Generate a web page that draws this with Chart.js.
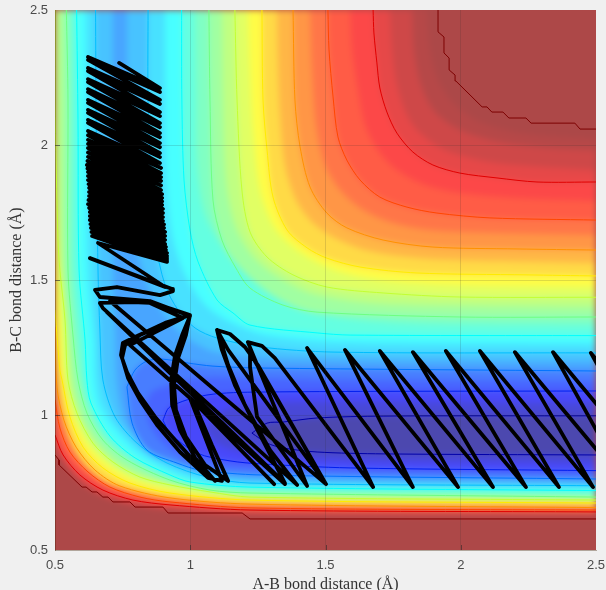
<!DOCTYPE html>
<html><head><meta charset="utf-8">
<style>html,body{margin:0;padding:0;background:#f0f0f0;overflow:hidden}canvas{display:block}</style>
<script src="https://cdn.jsdelivr.net/npm/chart.js@4"></script>
</head><body><canvas id="c" width="606" height="590"></canvas>
<script>
const xTickValues=[0.5,1,1.5,2,2.5];
const yTickValues=[0.5,1,1.5,2,2.5];
const xTitle='A-B bond distance (Å)';
const yTitle='B-C bond distance (Å)';

/* contour lines: [A-B, B-C] in Å; lower branch runs to the right edge, upper branch runs back */
const L_lower=[[.5,.852],[.515,.833],[.515,.815],[.6,.733],[.615,.733],[.637,.715],[.655,.715],[.677,.696],[.696,.696],[.714,.678],[.777,.678],[.796,.659],[.899,.659],[.918,.637],[1.192,.637],[1.221,.615],[2.5,.615]];
const L_upper=[[2.5,2.059],[2.441,2.059],[2.422,2.081],[2.26,2.081],[2.241,2.1],[2.178,2.1],[2.156,2.122],[2.115,2.122],[2.097,2.141],[2.079,2.141],[1.982,2.237],[1.979,2.259],[1.957,2.278],[1.957,2.322],[1.938,2.341],[1.938,2.4],[1.916,2.419],[1.916,2.5]];
const M0_lower=[[.5,.87],[.592,.744],[.788,.663],[1.221,.626],[2.5,.622]];
const M0_upper=[[2.5,2.019],[2.219,2.044],[2.071,2.085],[1.979,2.148],[1.916,2.241],[1.886,2.352],[1.875,2.5]];
const M1_lower=[[.5,.889],[.526,.833],[.592,.756],[.677,.7],[.788,.67],[.925,.652],[1.221,.633],[2.5,.63]];
const M1_upper=[[2.5,1.981],[2.33,1.989],[2.145,2.011],[1.997,2.056],[1.905,2.122],[1.853,2.222],[1.827,2.352],[1.82,2.5]];
const M2_lower=[[.5,.907],[.53,.841],[.592,.767],[.677,.707],[.788,.678],[.925,.659],[1.221,.641],[2.5,.635]];
const M2_upper=[[2.5,1.907],[2.293,1.919],[2.108,1.937],[1.942,1.981],[1.849,2.044],[1.801,2.111],[1.764,2.222],[1.746,2.352],[1.738,2.5]];
const K_lower=[[.5,.926],[.53,.852],[.592,.778],[.677,.722],[.788,.685],[.925,.667],[1.221,.648],[2.5,.641]];
const K_upper=[[2.5,1.863],[2.282,1.863],[2.134,1.878],[1.997,1.896],[1.897,1.926],[1.823,1.974],[1.764,2.044],[1.727,2.122],[1.701,2.211],[1.69,2.304],[1.679,2.415],[1.676,2.5]];
const KJ_lower=[[.5,.959],[.526,.881],[.574,.815],[.648,.756],[.74,.715],[.851,.685],[.999,.67],[1.221,.652],[2.5,.644]];
const KJ_upper=[[2.5,1.793],[2.201,1.804],[1.997,1.822],[1.868,1.852],[1.764,1.907],[1.694,1.981],[1.646,2.074],[1.62,2.204],[1.598,2.352],[1.591,2.5]];
const J_lower=[[.5,1.056],[.518,.952],[.555,.863],[.622,.789],[.703,.733],[.814,.696],[.925,.678],[1.221,.656],[2.5,.648]];
const J_upper=[[2.5,1.722],[2.108,1.73],[1.912,1.748],[1.801,1.77],[1.701,1.807],[1.628,1.87],[1.579,1.944],[1.546,2.03],[1.528,2.178],[1.513,2.352],[1.509,2.5]];
const JI_lower=[[.5,1.185],[.518,1.037],[.544,.926],[.6,.826],[.685,.759],[.777,.719],[.925,.685],[1.221,.663],[2.5,.652]];
const JI_upper=[[2.5,1.667],[2.145,1.674],[1.886,1.685],[1.738,1.715],[1.628,1.767],[1.554,1.833],[1.498,1.926],[1.465,2.074],[1.45,2.278],[1.443,2.5]];
const I_lower=[[.5,1.326],[.507,1.104],[.533,.981],[.578,.881],[.648,.796],[.74,.737],[.925,.693],[1.221,.67],[2.5,.657]];
const I_upper=[[2.5,1.611],[2.208,1.615],[1.897,1.622],[1.713,1.648],[1.579,1.693],[1.505,1.748],[1.443,1.844],[1.406,1.993],[1.387,2.167],[1.38,2.5]];
const IH_lower=[[.5,1.359],[.511,1.13],[.53,1.0],[.567,.881],[.629,.796],[.711,.741],[.888,.7],[1.221,.678],[2.5,.667]];
const IH_upper=[[2.5,1.563],[2.145,1.57],[1.849,1.581],[1.664,1.607],[1.535,1.656],[1.45,1.715],[1.391,1.796],[1.35,1.926],[1.332,2.111],[1.324,2.315],[1.321,2.5]];
const H_lower=[[.5,1.389],[.518,1.167],[.526,1.13],[.555,.993],[.604,.881],[.677,.804],[.777,.748],[.925,.711],[1.221,.685],[2.5,.674]];
const H_upper=[[2.5,1.515],[2.245,1.519],[1.838,1.526],[1.628,1.548],[1.505,1.581],[1.432,1.619],[1.358,1.685],[1.306,1.807],[1.284,1.981],[1.269,2.167],[1.265,2.5]];
const HG_lower=[[.5,1.87],[.518,1.426],[.537,1.13],[.567,1.0],[.622,.889],[.696,.815],[.796,.759],[.925,.726],[1.221,.693],[2.5,.68]];
const HG_upper=[[2.5,1.474],[1.997,1.481],[1.701,1.5],[1.535,1.537],[1.406,1.604],[1.313,1.693],[1.258,1.833],[1.232,2.056],[1.221,2.278],[1.213,2.5]];
const G_lower=[[.5,2.5],[.5,2.167],[.511,1.648],[.518,1.537],[.537,1.352],[.548,1.13],[.581,1.007],[.64,.896],[.714,.826],[.814,.77],[.925,.741],[1.073,.715],[1.221,.696],[2.5,.685]];
const G_upper=[[2.5,1.436],[1.997,1.437],[1.713,1.452],[1.505,1.474],[1.38,1.519],[1.284,1.585],[1.221,1.678],[1.191,1.833],[1.173,2.167],[1.165,2.5]];
const GF_lower=[[.518,2.5],[.522,2.167],[.526,1.648],[.533,1.463],[.552,1.241],[.567,1.093],[.6,.981],[.659,.889],[.74,.811],[.851,.767],[.925,.748],[1.073,.719],[1.221,.704],[2.5,.69]];
const GF_upper=[[2.5,1.4],[1.997,1.404],[1.664,1.415],[1.443,1.452],[1.313,1.519],[1.228,1.593],[1.165,1.704],[1.132,1.87],[1.121,2.167],[1.117,2.5]];
const F_lower=[[.542,2.5],[.548,2.167],[.548,1.537],[.567,1.289],[.585,1.13],[.618,1.007],[.677,.907],[.766,.833],[.925,.759],[1.073,.722],[1.221,.711],[2.5,.696]];
const F_upper=[[2.5,1.363],[1.997,1.363],[1.469,1.381],[1.343,1.407],[1.221,1.47],[1.169,1.544],[1.117,1.648],[1.084,1.796],[1.073,2.167],[1.069,2.5]];
const FE_lower=[[.559,2.5],[.563,2.167],[.567,1.537],[.589,1.278],[.607,1.111],[.637,1.011],[.692,.915],[.777,.841],[.925,.767],[1.073,.733],[1.221,.722],[2.5,.707]];
const FE_upper=[[2.5,1.333],[1.775,1.341],[1.48,1.37],[1.332,1.426],[1.221,1.507],[1.128,1.611],[1.055,1.741],[1.025,1.926],[1.021,2.204],[1.018,2.5]];
const E_lower=[[.58,2.5],[.585,2.093],[.589,1.537],[.611,1.278],[.618,1.13],[.633,1.044],[.703,.922],[.796,.841],[.925,.778],[.999,.752],[1.221,.733],[2.5,.72]];
const E_upper=[[2.5,1.294],[1.591,1.296],[1.469,1.304],[1.221,1.333],[1.158,1.378],[1.099,1.426],[1.029,1.567],[.999,1.685],[.977,1.87],[.969,2.167],[.968,2.5]];
const ED_lower=[[.615,2.5],[.618,1.981],[.622,1.537],[.644,1.278],[.648,1.13],[.666,1.037],[.722,.952],[.807,.863],[.925,.796],[1.036,.759],[1.221,.741],[2.5,.73]];
const ED_upper=[[2.5,1.263],[1.554,1.27],[1.276,1.296],[1.147,1.344],[1.055,1.407],[.981,1.519],[.933,1.667],[.91,1.907],[.907,2.204],[.907,2.5]];
const D_lower=[[.65,2.5],[.652,2.093],[.659,1.537],[.666,1.315],[.677,1.13],[.722,.993],[.803,.896],[.914,.822],[1.062,.77],[1.221,.748],[2.5,.738]];
const D_upper=[[2.5,1.23],[1.528,1.233],[1.258,1.252],[1.099,1.285],[1.018,1.322],[.955,1.389],[.907,1.481],[.87,1.648],[.855,1.87],[.844,2.167],[.844,2.5]];
const DC_lower=[[.714,2.5],[.714,2.093],[.714,1.537],[.722,1.315],[.729,1.111],[.759,.981],[.825,.9],[.925,.833],[1.055,.789],[1.221,.767],[2.5,.752]];
const DC_upper=[[2.5,1.196],[1.554,1.204],[1.276,1.211],[1.091,1.233],[.999,1.278],[.925,1.344],[.851,1.463],[.796,1.648],[.77,1.981],[.766,2.5]];
const C_lower=[[.766,1.104],[.785,.97],[.84,.87],[.951,.822],[1.036,.796],[1.258,.778],[2.5,.763]];
const C_upper=[[2.5,1.163],[1.258,1.174],[1.084,1.181],[.988,1.193],[.896,1.207],[.84,1.2],[.796,1.167],[.766,1.104]];
const CB_lower=[[.833,1.037],[.851,.963],[.907,.889],[.999,.833],[1.147,.804],[2.5,.778]];
const CB_upper=[[2.5,1.126],[1.517,1.13],[1.184,1.137],[1.036,1.137],[.925,1.111],[.858,1.085],[.833,1.037]];
const B_lower=[[.899,.981],[.925,.933],[1.025,.859],[1.147,.83],[1.258,.819],[1.591,.804],[2.5,.794]];
const B_upper=[[2.5,1.089],[1.258,1.085],[1.062,1.074],[.925,1.03],[.899,.981]];
const BA_lower=[[1.055,.944],[1.11,.889],[1.258,.848],[1.591,.83],[2.5,.822]];
const BA_upper=[[2.5,1.044],[1.591,1.048],[1.258,1.044],[1.128,1.019],[1.055,.944]];
const A_lower=[[1.228,.933],[1.284,.896],[1.343,.878],[1.469,.863],[1.713,.856],[2.5,.852]];
const A_upper=[[2.5,.997],[1.713,.996],[1.469,.989],[1.343,.974],[1.284,.97],[1.228,.933]];

/* trajectory: [A-B, B-C] in Å */
const trajectoryArm=[[.737,2.304],[.888,2.211],[.622,2.326],[.888,2.196],[.622,2.315],[.888,2.167],[.622,2.285],[.888,2.152],[.622,2.274],[.888,2.122],[.622,2.244],[.888,2.107],[.622,2.233],[.888,2.081],[.622,2.207],[.888,2.066],[.622,2.196],[.888,2.044],[.622,2.167],[.888,2.029],[.622,2.156],[.888,2.007],[.622,2.13],[.888,1.992],[.622,2.119],[.888,1.97],[.622,2.093],[.888,1.955],[.622,2.082],[.888,1.933],[.622,2.052],[.892,1.915],[.622,2.036],[.892,1.896],[.622,2.019],[.892,1.881],[.622,2.004],[.892,1.867],[.622,1.989],[.892,1.85],[.622,1.972],[.892,1.833],[.622,1.956],[.896,1.818],[.62,1.941],[.896,1.804],[.618,1.926],[.896,1.791],[.62,1.913],[.896,1.778],[.622,1.9],[.899,1.763],[.622,1.885],[.899,1.748],[.622,1.87],[.899,1.733],[.624,1.855],[.899,1.719],[.626,1.841],[.903,1.706],[.626,1.826],[.903,1.693],[.626,1.811],[.907,1.678],[.624,1.796],[.907,1.663],[.622,1.781],[.907,1.648],[.626,1.767],[.907,1.633],[.629,1.752],[.91,1.622],[.629,1.737],[.91,1.611],[.629,1.722],[.914,1.6],[.631,1.707],[.914,1.589],[.633,1.693],[.914,1.581],[.635,1.678],[.914,1.574],[.637,1.663],[.914,1.567],[.659,1.637],[.907,1.474],[.629,1.581],[.933,1.467]];
const trajectoryWall=[[.936,1.459],[.888,1.444],[.729,1.474],[.648,1.463],[.666,1.437],[.851,1.422],[.999,1.367],[.97,1.296],[.944,1.222],[.929,1.13],[.933,1.037],[.962,.944],[1.018,.841],[1.092,.756],[1.018,.826],[.944,.907],[.87,.993],[.807,1.081],[.766,1.159],[.744,1.222],[.751,1.267],[.796,1.289],[.907,1.341],[.999,1.37],[.984,1.296],[.955,1.211],[.94,1.111],[.947,1.019],[.984,.919],[1.055,.815],[1.14,.756],[1.08,.889],[1.025,1.019],[.999,1.063],[1.117,.756],[1.066,.767],[.962,.863],[.877,.963],[.814,1.056],[.77,1.137],[.748,1.211],[.759,1.259],[.814,1.296],[.944,1.352],[.999,1.37],[.851,1.419],[.666,1.415],[.677,1.396],[1.395,.741],[1.295,.87],[1.202,1.037],[1.14,1.185],[1.106,1.296],[1.099,1.315],[1.117,1.241],[1.165,1.111],[1.239,.963],[1.35,.748],[.692,1.381],[1.35,.744],[.999,1.063],[1.31,.744],[.999,1.063],[.777,1.259],[.973,1.359],[.851,1.415],[.703,1.422],[1.502,.744],[1.14,1.241],[1.099,1.315],[1.147,1.3],[1.202,1.252],[1.25,1.185],[1.502,.744],[1.221,1.23],[1.221,1.178],[1.247,.993],[1.432,.737],[1.213,1.27],[1.265,1.256],[1.313,1.211],[1.676,.733]];
const trajectoryChannel=[[1.432,1.248],[1.823,.733],[1.572,1.241],[1.99,.733],[1.701,1.237],[2.119,.733],[1.823,1.233],[2.241,.733],[1.945,1.237],[2.363,.733],[2.071,1.237],[2.489,.733],[2.2,1.233],[2.618,.733],[2.341,1.233],[2.759,.733],[2.481,1.23],[2.884,.733]];

const baseColor='rgb(173,72,72)';
const levels=[
 [L_lower,L_upper,'rgb(172,72,72)','rgb(125,0,0)',0],
 [M0_lower,M0_upper,'rgb(182,72,72)',null,.3],
 [M1_lower,M1_upper,'rgb(206,72,72)',null,.3],
 [M2_lower,M2_upper,'rgb(230,72,72)',null,.3],
 [K_lower,K_upper,'rgb(252,72,72)','rgb(225,0,0)',.3],
 [KJ_lower,KJ_upper,'rgb(255,92,70)',null,.3],
 [J_lower,J_upper,'rgb(255,118,72)','rgb(255,70,0)',.3],
 [JI_lower,JI_upper,'rgb(255,150,70)',null,.3],
 [I_lower,I_upper,'rgb(255,182,70)','rgb(255,145,0)',.3],
 [IH_lower,IH_upper,'rgb(255,218,70)',null,.3],
 [H_lower,H_upper,'rgb(255,252,70)','rgb(255,235,0)',.3],
 [HG_lower,HG_upper,'rgb(225,255,100)',null,.3],
 [G_lower,G_upper,'rgb(192,255,130)','rgb(195,255,50)',.3],
 [GF_lower,GF_upper,'rgb(160,255,162)',null,.3],
 [F_lower,F_upper,'rgb(128,255,195)','rgb(110,255,130)',.3],
 [FE_lower,FE_upper,'rgb(100,255,225)',null,.3],
 [E_lower,E_upper,'rgb(72,255,255)','rgb(0,255,255)',.3],
 [ED_lower,ED_upper,'rgb(72,225,255)',null,.3],
 [D_lower,D_upper,'rgb(72,195,255)','rgb(0,190,255)',.3],
 [DC_lower,DC_upper,'rgb(72,165,255)',null,.3],
 [C_lower,C_upper,'rgb(72,125,255)','rgb(0,115,255)',.3],
 [CB_lower,CB_upper,'rgb(72,100,255)',null,.3],
 [B_lower,B_upper,'rgb(72,72,250)','rgb(0,30,240)',.3],
 [BA_lower,BA_upper,'rgb(72,72,215)',null,.3],
 [A_lower,A_upper,'rgb(76,72,175)','rgb(0,0,170)',.3]
];
const toPts=a=>a.map(p=>({x:p[0],y:p[1]}));
const datasets=[];
levels.forEach((lv,i)=>{
  const ord=2*(levels.length-i)+2;
  const common={showLine:true,pointRadius:0,pointHoverRadius:0,clip:0,tension:lv[4],
    borderColor:lv[3]||'rgba(0,0,0,0)',borderWidth:lv[3]?1:0,borderJoinStyle:'round'};
  datasets.push({...common,data:toPts(lv[0]),order:ord});
  datasets.push({...common,data:toPts(lv[1]),order:ord+1,bandFill:lv[2]});
});
datasets.push({showLine:true,pointRadius:0,pointHoverRadius:0,clip:0,tension:0,order:0,
  data:toPts([...trajectoryArm,...trajectoryWall,...trajectoryChannel]),
  borderColor:'#000',borderWidth:3.8,borderJoinStyle:'round',borderCapStyle:'round'});

function trace(ctx,meta,area,first){
  meta.dataset.updateControlPoints(area,'x');
  meta.data.forEach((p,i)=>{
    if(i===0){ first?ctx.moveTo(p.x,p.y):ctx.lineTo(p.x,p.y); return; }
    const q=meta.data[i-1];
    if(meta.dataset.options.tension>0 && q.cp2x!==undefined) ctx.bezierCurveTo(q.cp2x,q.cp2y,p.cp1x,p.cp1y,p.x,p.y);
    else ctx.lineTo(p.x,p.y);
  });
}
const surfacePlugin={
  id:'surface',
  beforeDatasetsDraw(chart){
    const {ctx,chartArea:a,scales}=chart;
    const off=document.createElement('canvas');off.width=chart.width;off.height=chart.height;
    const o=off.getContext('2d');
    o.fillStyle=baseColor;o.fillRect(0,0,off.width,off.height);
    chart.data.datasets.forEach((ds,i)=>{
      if(!ds.bandFill) return;
      o.beginPath();
      trace(o,chart.getDatasetMeta(i-1),a,true);
      trace(o,chart.getDatasetMeta(i),a,false);
      if(ds.data[ds.data.length-1].y===2.5) o.lineTo(scales.x.getPixelForValue(.5),scales.y.getPixelForValue(2.5));
      o.closePath();
      o.fillStyle=ds.bandFill;o.fill();
    });
    ctx.save();
    ctx.beginPath();ctx.rect(a.left,a.top,a.right-a.left,a.bottom-a.top);ctx.clip();
    ctx.drawImage(off,0,0);
    ctx.filter='blur(3px)';ctx.drawImage(off,0,0);ctx.filter='none';
    ctx.restore();
  },
  afterDatasetsDraw(chart){
    const {ctx,chartArea:a,scales}=chart;
    ctx.save();ctx.strokeStyle='rgba(38,38,38,.55)';ctx.lineWidth=1;
    xTickValues.slice(1,-1).forEach(v=>{const x=Math.round(scales.x.getPixelForValue(v))+.5;ctx.beginPath();ctx.moveTo(x,a.bottom);ctx.lineTo(x,a.bottom-5);ctx.stroke();});
    yTickValues.slice(1,-1).forEach(v=>{const y=Math.round(scales.y.getPixelForValue(v))+.5;ctx.beginPath();ctx.moveTo(a.left,y);ctx.lineTo(a.left+5,y);ctx.stroke();});
    ctx.restore();
  }
};
const gridColor=c=>(c.tick&&(c.tick.value===.5||c.tick.value===2.5))?'rgba(0,0,0,0)':'rgba(38,38,38,.15)';
const tickFont={family:'"Liberation Sans",Arial,sans-serif',size:13};
const titleFont={family:'"Liberation Serif","Times New Roman",serif',size:16,lineHeight:1};
const noPad=s=>{s.paddingLeft=s.paddingRight=s.paddingTop=s.paddingBottom=0;};
new Chart(document.getElementById('c'),{
  type:'scatter',
  data:{datasets},
  plugins:[surfacePlugin],
  options:{
    responsive:false,animation:false,devicePixelRatio:1,
    events:[],
    layout:{autoPadding:false,padding:{top:10,right:10,left:0,bottom:0}},
    plugins:{legend:{display:false},tooltip:{enabled:false},title:{display:false}},
    scales:{
      x:{type:'linear',min:.5,max:2.5,afterBuildTicks(s){s.ticks=xTickValues.map(v=>({value:v}));},
        afterFit(s){s.height=40;noPad(s);},
        grid:{color:gridColor,lineWidth:1,z:1,drawTicks:false},
        border:{display:true,color:'rgba(60,30,0,.35)',z:1},
        ticks:{font:tickFont,color:'#4a4a4a',padding:8,maxRotation:0,autoSkip:false,callback:v=>String(v)},
        title:{display:true,text:xTitle,font:titleFont,color:'#333',padding:{top:0,bottom:-3}}},
      y:{type:'linear',min:.5,max:2.5,afterBuildTicks(s){s.ticks=yTickValues.map(v=>({value:v}));},
        afterFit(s){s.width=55;noPad(s);},
        grid:{color:gridColor,lineWidth:1,z:1,drawTicks:false},
        border:{display:true,color:'rgba(60,30,0,.35)',z:1},
        ticks:{font:tickFont,color:'#4a4a4a',padding:7,autoSkip:false,callback:v=>String(v)},
        title:{display:true,text:yTitle,font:titleFont,color:'#333',padding:{top:9,bottom:0}}}
    }
  }
});
</script></body></html>
